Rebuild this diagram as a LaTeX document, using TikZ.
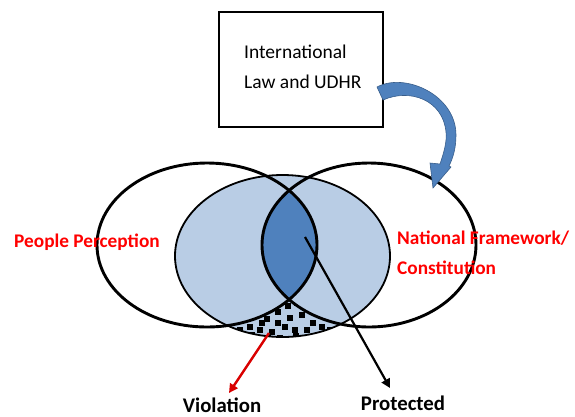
\documentclass[tikz,border=0pt]{standalone}
\usepackage{fontspec}
\setmainfont{Carlito}
\usetikzlibrary{arrows.meta}
\definecolor{lightblue}{HTML}{B9CDE5}
\definecolor{darkblue}{HTML}{4F81BD}
\definecolor{edgeblue}{HTML}{385D8A}
\begin{document}
\begin{tikzpicture}[x=1pt,y=-1pt,
  ring/.style={draw=black,line width=2.9pt},
  midring/.style={draw=black,line width=1.8pt},
  redlabel/.style={text=red,font=\fontsize{19.3}{30}\selectfont\bfseries,inner sep=0pt},
  blacklabel/.style={text=black,font=\fontsize{20.8}{24}\selectfont\bfseries,inner sep=0pt},
  sq/.style={fill=black}]
\useasboundingbox (0,0) rectangle (575,416);
% box
\node[draw=black,line width=1.8pt,minimum width=164pt,minimum height=115pt,inner sep=0pt] (box) at (301,69.5) {};
\node[anchor=west,inner sep=0pt,font=\fontsize{19.5}{30}\selectfont,align=left] (boxtext) at (244,67) {International\\Law and UDHR};
% middle ellipse fill
\fill[lightblue] (282.5,256) ellipse [x radius=107.5pt, y radius=81pt];
% squares in the bottom region
\begin{scope}
\clip (282.5,256) ellipse [x radius=107.5pt, y radius=81pt];
\foreach \x/\y in {278/312,288/306,302/315,267/319,278/323,290/318,313/323,250/327,260/330,272/332,285/327,295/330,307/330,322/327,297/303,283/300,240/330,330/330,262/323,318/335,296/336,280/338,252/335,268/338,306/338,340/334,235/336}
  \fill[sq] (\x-3,\y-3) rectangle (\x+3,\y+3);
\fill[lightblue] (207,245) ellipse [x radius=110pt, y radius=82pt];
\fill[lightblue] (369,245) ellipse [x radius=107pt, y radius=82pt];
\end{scope}
% lens
\begin{scope}
\clip (207,245) ellipse [x radius=110pt, y radius=82pt];
\fill[darkblue] (369,245) ellipse [x radius=107pt, y radius=82pt];
\end{scope}
% outlines
\draw[midring] (282.5,256) ellipse [x radius=107.5pt, y radius=81pt];
\draw[ring] (207,245) ellipse [x radius=110pt, y radius=82pt];
\draw[ring] (369,245) ellipse [x radius=107pt, y radius=82pt];
% labels
\node[redlabel,anchor=west] (people) at (14,242) {People Perception};
\node[redlabel,anchor=west,align=left] (national) at (397,253) {National Framework/\\Constitution};
\node[blacklabel] (viol) at (222,405) {Violation};
\node[blacklabel] (prot) at (403,403) {Protected};
% blue curved arrow
\fill[darkblue,draw=edgeblue,line width=0.6pt]
  (377,87) .. controls (405,72) and (456,95) .. (456,135)
  .. controls (456,148) and (453,158) .. (449,166)
  -- (451,167) -- (433,188) -- (430,163) -- (440,164)
  .. controls (444,152) and (447,142) .. (446,132)
  .. controls (443,100) and (410,88) .. (383,100) -- cycle;
% arrows
\coordinate (violstart) at (269,333);
\coordinate (violend) at (229,393);
\coordinate (lensc) at (305,237);
\coordinate (protend) at (390,388);
\draw[red!85!black,line width=2.4pt,-{Triangle[length=9pt,width=9pt]}] (violstart) -- (violend);
\draw[black,line width=2.2pt,-{Triangle[length=9pt,width=9pt]}] (lensc) -- (protend);
\end{tikzpicture}
\end{document}
